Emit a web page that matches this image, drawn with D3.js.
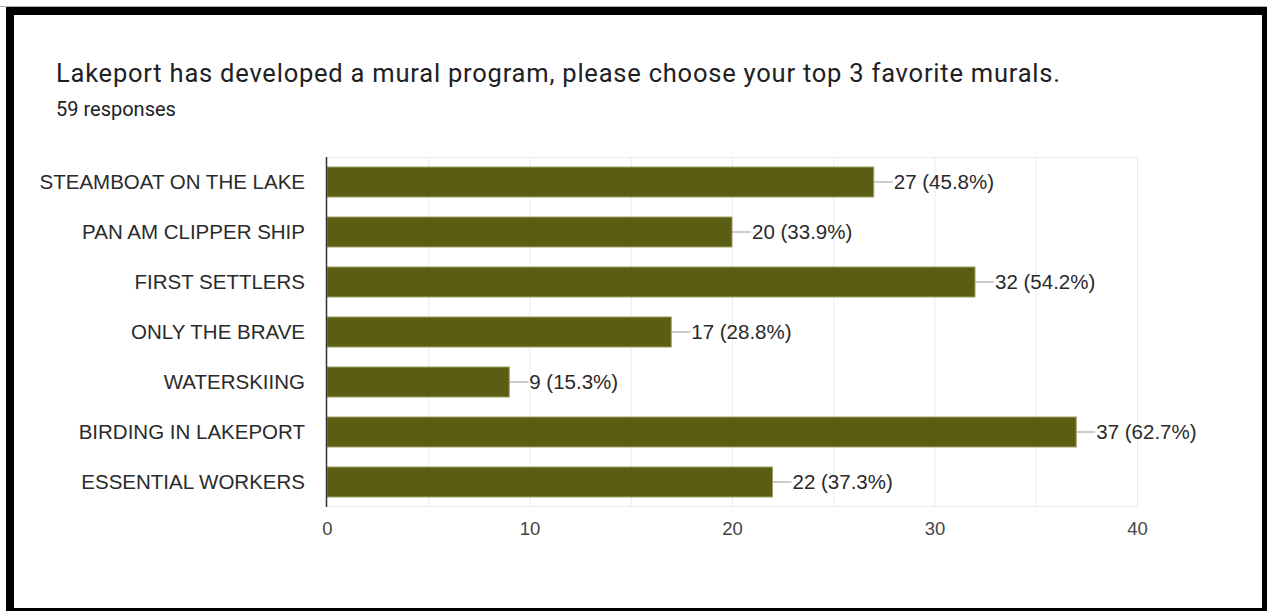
<!DOCTYPE html>
<html><head><meta charset="utf-8">
<script src="https://cdn.jsdelivr.net/npm/d3@7"></script>
<style>html,body{margin:0;padding:0;background:#fff;}svg{display:block;}</style>
</head><body>
<script>
const categories = ["STEAMBOAT ON THE LAKE","PAN AM CLIPPER SHIP","FIRST SETTLERS","ONLY THE BRAVE","WATERSKIING","BIRDING IN LAKEPORT","ESSENTIAL WORKERS"];
const counts = [27, 20, 32, 17, 9, 37, 22];
const percents = ["45.8%","33.9%","54.2%","28.8%","15.3%","62.7%","37.3%"];
const xTicks = [0, 10, 20, 30, 40];
const gridValues = [5, 10, 15, 20, 25, 30, 35, 40];
const titleText = "Lakeport has developed a mural program, please choose your top 3 favorite murals.";
const subtitleText = "59 responses";

(function(){
const W = 1267, H = 611;
const svg = d3.select("body").append("svg").attr("width", W).attr("height", H);

// frame
svg.append("rect").attr("x",0).attr("y",0).attr("width",W).attr("height",H).attr("fill","#fff");
svg.append("rect").attr("x",0).attr("y",6).attr("width",W).attr("height",1).attr("fill","#b0b0b0");
svg.append("rect").attr("x",6).attr("y",7).attr("width",1261).attr("height",8).attr("fill","#000");
svg.append("rect").attr("x",6).attr("y",7).attr("width",8).attr("height",604).attr("fill","#000");
svg.append("rect").attr("x",1262).attr("y",7).attr("width",5).attr("height",604).attr("fill","#000");
svg.append("rect").attr("x",6).attr("y",608).attr("width",1261).attr("height",3).attr("fill","#000");

svg.append("text").attr("x",56).attr("y",82).text(titleText)
  .attr("font-family","Roboto").attr("font-size",25.5).attr("fill","#202124")
  .attr("textLength",1004).attr("lengthAdjust","spacing");
svg.append("text").attr("x",56).attr("y",116).text(subtitleText)
  .attr("font-family","Roboto").attr("font-size",20).attr("fill","#202124");

const pl = 327, pr = 1137, pt = 157, pb = 507;
const x = d3.scaleLinear().domain([0, 40]).range([pl, pr]);
const y = d3.scaleBand().domain(categories).range([pt, pb]).paddingInner(0.4).paddingOuter(0.2);

// grid
const g = svg.append("g");
g.selectAll("line.grid").data(gridValues).join("line")
  .attr("x1", d => x(d)+0.5).attr("x2", d => x(d)+0.5)
  .attr("y1", pt).attr("y2", pb).attr("stroke","#ebebeb").attr("stroke-width",1);
g.append("line").attr("x1",pl).attr("x2",pr).attr("y1",pt+0.5).attr("y2",pt+0.5).attr("stroke","#ebebeb");
g.append("line").attr("x1",pl).attr("x2",pr).attr("y1",pb-0.5).attr("y2",pb-0.5).attr("stroke","#ebebeb");

// bars
const data = categories.map((c,i) => ({c, v: counts[i], p: percents[i]}));
svg.selectAll("rect.bar").data(data).join("rect").attr("class","bar")
  .attr("x", x(0)).attr("y", d => y(d.c))
  .attr("width", d => x(d.v) - x(0)).attr("height", y.bandwidth())
  .attr("fill","#5b5e12").attr("stroke","#9ea063").attr("stroke-width",1);

// leader lines + labels
svg.selectAll("line.lead").data(data).join("line")
  .attr("x1", d => x(d.v)).attr("x2", d => x(d.v)+19)
  .attr("y1", d => y(d.c)+y.bandwidth()/2).attr("y2", d => y(d.c)+y.bandwidth()/2)
  .attr("stroke","#999").attr("stroke-width",1);
svg.selectAll("text.val").data(data).join("text")
  .attr("x", d => x(d.v)+20).attr("y", d => y(d.c)+y.bandwidth()/2)
  .attr("dy","0.36em").text(d => `${d.v} (${d.p})`)
  .attr("font-family","Liberation Sans, Arial").attr("font-size",20.5).attr("fill","#2a2a2a");

// left axis
svg.append("line").attr("x1",pl-0.5).attr("x2",pl-0.5).attr("y1",pt).attr("y2",pb)
  .attr("stroke","#333").attr("stroke-width",1.5);
const yAxis = svg.append("g").attr("transform",`translate(${pl},0)`)
  .call(d3.axisLeft(y).tickSize(0).tickPadding(22));
yAxis.select(".domain").remove();
yAxis.selectAll("text").attr("font-family","Liberation Sans, Arial").attr("font-size",20.5).attr("fill","#2a2a2a");

// bottom axis
const xAxis = svg.append("g").attr("transform",`translate(0,${pb})`)
  .call(d3.axisBottom(x).tickValues(xTicks).tickSize(0).tickPadding(15));
xAxis.select(".domain").remove();
xAxis.selectAll("text").attr("font-family","Liberation Sans, Arial").attr("font-size",18.5).attr("fill","#444");
})();
</script>
</body></html>
